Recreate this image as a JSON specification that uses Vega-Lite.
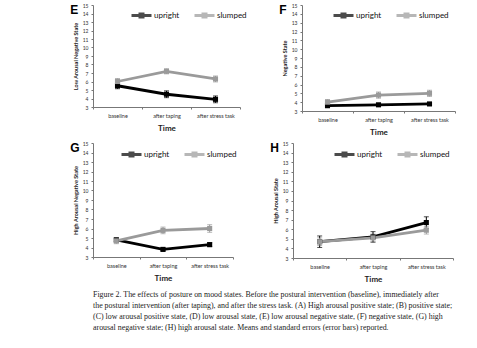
{
  "$schema": "https://vega.github.io/schema/vega-lite/v6.json",
  "padding": {"left": 70, "top": 3, "right": 2, "bottom": 2},
  "datasets": {
    "moods": [
      {"panel": "E", "time": "baseline", "posture": "upright", "mean": 5.5, "se": 0.35},
      {"panel": "E", "time": "after taping", "posture": "upright", "mean": 4.5, "se": 0.4},
      {"panel": "E", "time": "after stress task", "posture": "upright", "mean": 3.9, "se": 0.4},
      {"panel": "E", "time": "baseline", "posture": "slumped", "mean": 6.0, "se": 0.35},
      {"panel": "E", "time": "after taping", "posture": "slumped", "mean": 7.2, "se": 0.3},
      {"panel": "E", "time": "after stress task", "posture": "slumped", "mean": 6.3, "se": 0.35},
      {"panel": "F", "time": "baseline", "posture": "upright", "mean": 3.6, "se": 0.15},
      {"panel": "F", "time": "after taping", "posture": "upright", "mean": 3.7, "se": 0.15},
      {"panel": "F", "time": "after stress task", "posture": "upright", "mean": 3.8, "se": 0.15},
      {"panel": "F", "time": "baseline", "posture": "slumped", "mean": 4.0, "se": 0.3},
      {"panel": "F", "time": "after taping", "posture": "slumped", "mean": 4.8, "se": 0.35},
      {"panel": "F", "time": "after stress task", "posture": "slumped", "mean": 5.0, "se": 0.35},
      {"panel": "G", "time": "baseline", "posture": "upright", "mean": 4.8, "se": 0.2},
      {"panel": "G", "time": "after taping", "posture": "upright", "mean": 3.8, "se": 0.15},
      {"panel": "G", "time": "after stress task", "posture": "upright", "mean": 4.3, "se": 0.2},
      {"panel": "G", "time": "baseline", "posture": "slumped", "mean": 4.7, "se": 0.3},
      {"panel": "G", "time": "after taping", "posture": "slumped", "mean": 5.8, "se": 0.35},
      {"panel": "G", "time": "after stress task", "posture": "slumped", "mean": 6.0, "se": 0.4},
      {"panel": "H", "time": "baseline", "posture": "upright", "mean": 4.7, "se": 0.6},
      {"panel": "H", "time": "after taping", "posture": "upright", "mean": 5.2, "se": 0.55},
      {"panel": "H", "time": "after stress task", "posture": "upright", "mean": 6.7, "se": 0.6},
      {"panel": "H", "time": "baseline", "posture": "slumped", "mean": 4.7, "se": 0.4},
      {"panel": "H", "time": "after taping", "posture": "slumped", "mean": 5.1, "se": 0.4},
      {"panel": "H", "time": "after stress task", "posture": "slumped", "mean": 5.9, "se": 0.4}
    ]
  },
  "title": {
    "text": [
      "Figure 2.    The effects of posture on mood states. Before the postural intervention (baseline), immediately after",
      "the postural intervention (after taping), and after the stress task. (A) High arousal positive state; (B) positive state;",
      "(C) low arousal positive state, (D) low arousal state, (E) low arousal negative state, (F) negative state, (G) high",
      "arousal negative state; (H) high arousal state. Means and standard errors (error bars) reported."
    ],
    "orient": "bottom",
    "anchor": "start",
    "frame": "group",
    "font": "Liberation Serif",
    "fontSize": 7.9,
    "fontWeight": "normal",
    "lineHeight": 11,
    "color": "#222",
    "offset": 7
  },
  "vconcat": [
    {
      "hconcat": [
        {
          "title": {"text": "E", "anchor": "start", "frame": "bounds", "offset": -14, "dx": -3},
          "width": 147, "height": 102,
          "data": {"name": "moods"},
          "transform": [{"filter": "datum.panel === 'E'"}],
          "encoding": {
            "x": {"field": "time", "type": "nominal", "sort": ["baseline", "after taping", "after stress task"], "scale": {"type": "band", "paddingInner": 0, "paddingOuter": 0}, "bandPosition": 0.5, "title": "Time"},
            "y": {"field": "mean", "type": "quantitative", "scale": {"domain": [3, 15], "nice": false}, "axis": {"values": [3, 4, 5, 6, 7, 8, 9, 10, 11, 12, 13, 14, 15]}, "title": "Low Arousal Negative State"},
            "color": {"field": "posture", "type": "nominal", "scale": {"domain": ["upright", "slumped"], "range": ["#000000", "#9a9a9a"]}, "legend": {"legendX": 37, "legendY": -1}}
          },
          "layer": [
            {"mark": {"type": "line", "strokeWidth": 2.8}},
            {"mark": {"type": "errorbar", "ticks": {"size": 5}, "thickness": 1}, "encoding": {"yError": {"field": "se"}}},
            {"mark": {"type": "point", "shape": "square", "filled": true, "size": 26, "opacity": 1}}
          ]
        },
        {
          "title": {"text": "F", "anchor": "start", "frame": "bounds", "offset": -14, "dx": -3},
          "width": 153, "height": 106,
          "data": {"name": "moods"},
          "transform": [{"filter": "datum.panel === 'F'"}],
          "encoding": {
            "x": {"field": "time", "type": "nominal", "sort": ["baseline", "after taping", "after stress task"], "scale": {"type": "band", "paddingInner": 0, "paddingOuter": 0}, "bandPosition": 0.5, "title": "Time"},
            "y": {"field": "mean", "type": "quantitative", "scale": {"domain": [3, 15], "nice": false}, "axis": {"values": [3, 4, 5, 6, 7, 8, 9, 10, 11, 12, 13, 14, 15]}, "title": "Negative State"},
            "color": {"field": "posture", "type": "nominal", "scale": {"domain": ["upright", "slumped"], "range": ["#000000", "#9a9a9a"]}, "legend": {"legendX": 30, "legendY": -1}}
          },
          "layer": [
            {"mark": {"type": "line", "strokeWidth": 2.8}},
            {"mark": {"type": "errorbar", "ticks": {"size": 5}, "thickness": 1}, "encoding": {"yError": {"field": "se"}}},
            {"mark": {"type": "point", "shape": "square", "filled": true, "size": 26, "opacity": 1}}
          ]
        }
      ],
      "spacing": 32,
      "resolve": {"scale": {"color": "independent", "x": "independent", "y": "independent"}}
    },
    {
      "hconcat": [
        {
          "title": {"text": "G", "anchor": "start", "frame": "bounds", "offset": -14, "dx": -3},
          "width": 140, "height": 114,
          "data": {"name": "moods"},
          "transform": [{"filter": "datum.panel === 'G'"}],
          "encoding": {
            "x": {"field": "time", "type": "nominal", "sort": ["baseline", "after taping", "after stress task"], "scale": {"type": "band", "paddingInner": 0, "paddingOuter": 0}, "bandPosition": 0.5, "title": "Time"},
            "y": {"field": "mean", "type": "quantitative", "scale": {"domain": [3, 15], "nice": false}, "axis": {"values": [3, 4, 5, 6, 7, 8, 9, 10, 11, 12, 13, 14, 15]}, "title": "High Arousal Negative State"},
            "color": {"field": "posture", "type": "nominal", "scale": {"domain": ["upright", "slumped"], "range": ["#000000", "#9a9a9a"]}, "legend": {"legendX": 27, "legendY": 0}}
          },
          "layer": [
            {"mark": {"type": "line", "strokeWidth": 2.8}},
            {"mark": {"type": "errorbar", "ticks": {"size": 5}, "thickness": 1}, "encoding": {"yError": {"field": "se"}}},
            {"mark": {"type": "point", "shape": "square", "filled": true, "size": 26, "opacity": 1}}
          ]
        },
        {
          "title": {"text": "H", "anchor": "start", "frame": "bounds", "offset": -14, "dx": -3},
          "width": 160, "height": 115,
          "data": {"name": "moods"},
          "transform": [{"filter": "datum.panel === 'H'"}],
          "encoding": {
            "x": {"field": "time", "type": "nominal", "sort": ["baseline", "after taping", "after stress task"], "scale": {"type": "band", "paddingInner": 0, "paddingOuter": 0}, "bandPosition": 0.5, "title": "Time"},
            "y": {"field": "mean", "type": "quantitative", "scale": {"domain": [3, 15], "nice": false}, "axis": {"values": [3, 4, 5, 6, 7, 8, 9, 10, 11, 12, 13, 14, 15]}, "title": "High Arousal State"},
            "color": {"field": "posture", "type": "nominal", "scale": {"domain": ["upright", "slumped"], "range": ["#000000", "#9a9a9a"]}, "legend": {"legendX": 40, "legendY": 0}}
          },
          "layer": [
            {"mark": {"type": "line", "strokeWidth": 2.8}},
            {"mark": {"type": "errorbar", "ticks": {"size": 5}, "thickness": 1}, "encoding": {"yError": {"field": "se"}}},
            {"mark": {"type": "point", "shape": "square", "filled": true, "size": 26, "opacity": 1}}
          ]
        }
      ],
      "spacing": 33,
      "resolve": {"scale": {"color": "independent", "x": "independent", "y": "independent"}}
    }
  ],
  "spacing": 4,
  "resolve": {"scale": {"color": "independent", "x": "independent", "y": "independent"}},
  "config": {
    "font": "Lato",
    "view": {"stroke": null},
    "title": {"font": "Liberation Sans", "fontSize": 12, "fontWeight": "bold", "color": "#000"},
    "axisX": {"labelAngle": 0, "labelFontSize": 5.5, "labelColor": "#333", "tickBand": "extent", "tickSize": 2, "tickColor": "#777", "domainColor": "#777", "titleFontSize": 8, "titleFontWeight": "bold", "titleColor": "#222", "titlePadding": 6, "labelPadding": 4, "grid": false},
    "axisY": {"labelFontSize": 5, "labelColor": "#333", "tickSize": 2, "tickColor": "#777", "domainColor": "#777", "titleFontSize": 5.5, "titleFontWeight": "bold", "titleColor": "#222", "titlePadding": 4, "labelPadding": 3, "grid": false},
    "legend": {"orient": "none", "direction": "horizontal", "title": null, "symbolType": "M-1,0H1M-0.15,-0.15H0.15V0.15H-0.15Z", "symbolSize": 400, "symbolStrokeWidth": 3, "labelFontSize": 8, "labelColor": "#111", "columnPadding": 8, "labelOffset": 1}
  }
}
